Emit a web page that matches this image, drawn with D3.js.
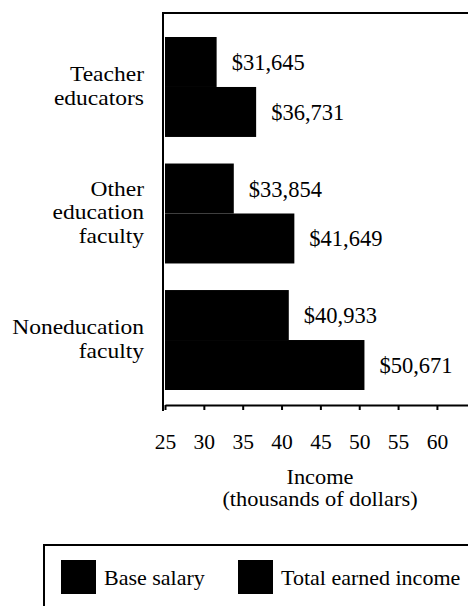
<!DOCTYPE html>
<html>
<head>
<meta charset="utf-8">
<script src="https://cdn.jsdelivr.net/npm/d3@7"></script>
<style>
  html, body { margin: 0; padding: 0; background: #fff; }
  svg { display: block; }
  text { font-family: "Liberation Serif", "Times New Roman", serif; fill: #000; }
</style>
</head>
<body>
<svg id="chart" width="468" height="606"></svg>
<script>
// ---- data ----
const categories = ["Teacher educators", "Other education faculty", "Noneducation faculty"];
const categoryLines = [["Teacher", "educators"], ["Other", "education", "faculty"], ["Noneducation", "faculty"]];
const seriesNames = ["Base salary", "Total earned income"];
const baseSalary = [31645, 33854, 40933];
const totalEarned = [36731, 41649, 50671];
const tickValues = [25, 30, 35, 40, 45, 50, 55, 60];
const axisTitle = ["Income", "(thousands of dollars)"];

const svg = d3.select("#chart");
const ink = "#000";

const x = d3.scaleLinear().domain([25, 64]).range([165, 468]);
const y = d3.scaleBand().domain(categories).range([37, 390]).paddingInner(0.21).paddingOuter(0);
const ySub = d3.scaleBand().domain(seriesNames).range([0, y.bandwidth()]).paddingInner(0);

const rows = [];
categories.forEach((c, i) => {
  rows.push({ cat: c, series: seriesNames[0], value: baseSalary[i] });
  rows.push({ cat: c, series: seriesNames[1], value: totalEarned[i] });
});

// bars
svg.append("g").selectAll("rect").data(rows).join("rect")
  .attr("x", x(25))
  .attr("y", d => y(d.cat) + ySub(d.series))
  .attr("width", d => x(d.value / 1000) - x(25))
  .attr("height", ySub.bandwidth())
  .attr("fill", ink);

// value labels
const fmt = d3.format("$,");
svg.append("g").selectAll("text").data(rows).join("text")
  .attr("x", d => x(d.value / 1000) + 15)
  .attr("y", d => y(d.cat) + ySub(d.series) + ySub.bandwidth() / 2 + 8)
  .attr("font-size", 22.5)
  .text(d => fmt(d.value));

// frame: top line and left axis
svg.append("line").attr("x1", 163).attr("x2", 468).attr("y1", 13).attr("y2", 13)
  .attr("stroke", ink).attr("stroke-width", 2);
svg.append("line").attr("x1", 163).attr("x2", 163).attr("y1", 12).attr("y2", 411)
  .attr("stroke", ink).attr("stroke-width", 2);

// x axis
const axisG = svg.append("g").attr("transform", "translate(0,405)")
  .call(d3.axisBottom(x).tickValues(tickValues).tickSize(5).tickSizeOuter(0).tickPadding(24));
axisG.select(".domain").attr("stroke", ink).attr("stroke-width", 2);
axisG.selectAll(".tick line").attr("stroke", ink).attr("stroke-width", 2);
axisG.selectAll(".tick text").attr("font-family", "Liberation Serif").attr("font-size", 21.5).attr("fill", ink);

// axis title
const titleLH = 22.5;
svg.append("g").attr("transform", "translate(320,0) scale(1.12,1)")
  .selectAll("text").data(axisTitle).join("text")
  .attr("x", 0)
  .attr("y", (d, i) => 484 + i * titleLH)
  .attr("text-anchor", "middle")
  .attr("font-size", 20)
  .text(d => d);

// category labels
const catFont = 21, catLH = 23.5;
categories.forEach((c, i) => {
  const lines = categoryLines[i];
  const cy = y(c) + y.bandwidth() / 2;
  const first = cy + 6 - (lines.length - 1) * catLH / 2;
  svg.append("g").attr("transform", "translate(144,0) scale(1.12,1)")
    .selectAll("text").data(lines).join("text")
    .attr("x", 0)
    .attr("y", (d, j) => first + j * catLH)
    .attr("text-anchor", "end")
    .attr("font-size", catFont)
    .text(d => d);
});

// legend
const lg = svg.append("g");
lg.append("path").attr("d", "M44,608 V545 H470").attr("fill", "none").attr("stroke", ink).attr("stroke-width", 2);
const legendX = [61, 238];
seriesNames.forEach((s, i) => {
  lg.append("rect").attr("x", legendX[i]).attr("y", 560).attr("width", 35).attr("height", 34).attr("fill", ink);
  lg.append("text").attr("x", legendX[i] + 43).attr("y", 585).attr("font-size", 22).text(s);
});
</script>
</body>
</html>
